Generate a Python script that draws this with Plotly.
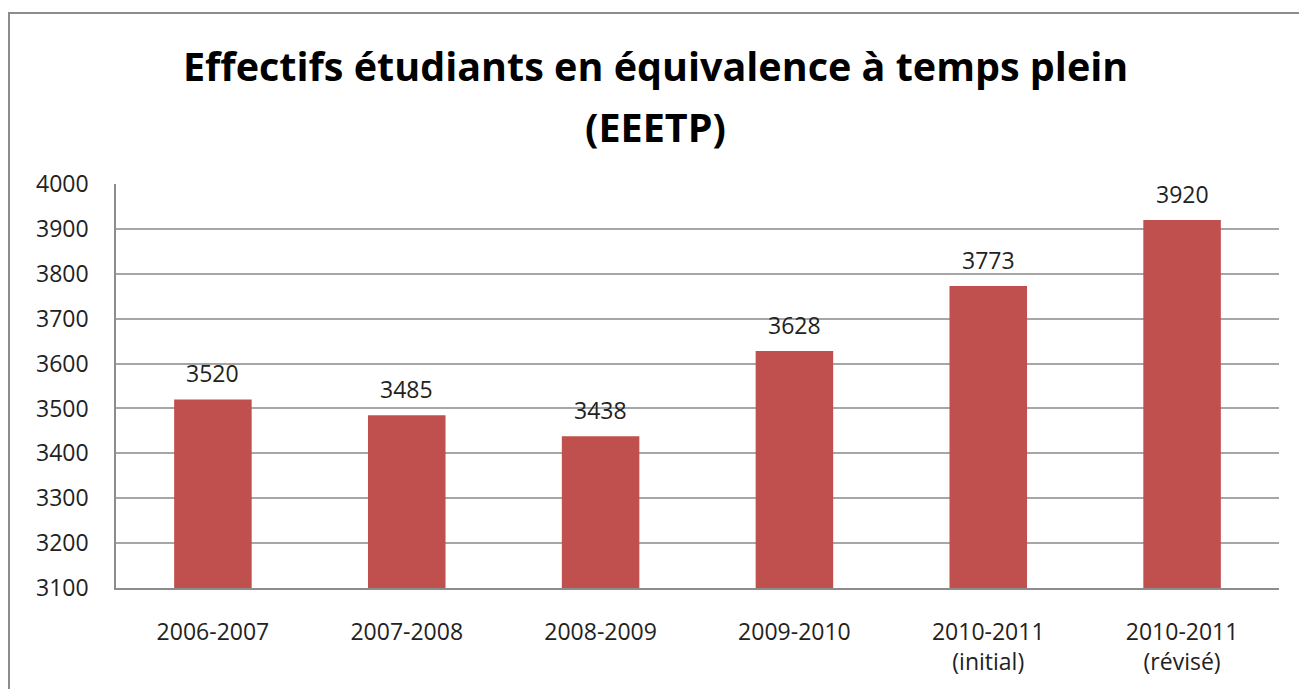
import plotly.graph_objects as go

categories = ["2006-2007", "2007-2008", "2008-2009", "2009-2010",
              "2010-2011<br>(initial)", "2010-2011<br>(révisé)"]
values = [3520, 3485, 3438, 3628, 3773, 3920]
y_ticks = [3100, 3200, 3300, 3400, 3500, 3600, 3700, 3800, 3900, 4000]
title_lines = ["Effectifs étudiants en équivalence à temps plein", "(EEETP)"]

OFF = 8  # default page body margin
W, H = 1307 - 2 * OFF, 697 - 2 * OFF
L, R, T, B = 116 - OFF, 1279 - OFF, 184 - OFF, 588 - OFF

FONT = "Open Sans"
TXT = "#222222"

fig = go.Figure(go.Bar(
    x=categories, y=values, width=0.4,
    marker=dict(color="#C0504D", line=dict(width=0)),
    hoverinfo="x+y",
))

def px_x(p):
    return (p - OFF - L) / (R - L)

def px_y(p):
    return (B - (p - OFF)) / (B - T)

annotations = []
for c, v in zip(categories, values):
    annotations.append(dict(x=c, y=v, xref="x", yref="y", text=str(v),
                            showarrow=False, yanchor="middle", yshift=26,
                            font=dict(family=FONT, size=23, color=TXT)))
for line, yc in zip(title_lines, [66, 127]):
    annotations.append(dict(x=px_x(655), y=px_y(yc), xref="paper", yref="paper",
                            text="<b>" + line + "</b>", showarrow=False,
                            xanchor="center", yanchor="middle",
                            font=dict(family=FONT, size=39.5, color="black")))

fig.update_layout(
    width=W, height=H, autosize=False,
    margin=dict(l=L, r=W - R, t=T, b=H - B),
    paper_bgcolor="white", plot_bgcolor="white",
    showlegend=False,
    annotations=annotations,
    shapes=[
        dict(type="line", xref="paper", yref="paper", x0=px_x(9), x1=px_x(9),
             y0=px_y(13), y1=px_y(720), line=dict(color="#8C8C8C", width=2)),
        dict(type="line", xref="paper", yref="paper", x0=px_x(8), x1=px_x(1330),
             y0=px_y(13), y1=px_y(13), line=dict(color="#8C8C8C", width=2)),
    ],
)
fig.update_xaxes(
    showgrid=False, showline=True, linecolor="#8C8C8C", linewidth=1.5,
    ticks="", ticklabelstandoff=23,
    tickfont=dict(family=FONT, size=23, color=TXT),
)
fig.update_yaxes(
    range=[3100, 4000], tickvals=y_ticks, showgrid=True, gridcolor="#A6A6A6",
    gridwidth=1.5, showline=True, linecolor="#8C8C8C", linewidth=1.5,
    ticks="", ticklabelstandoff=21, zeroline=False,
    tickfont=dict(family=FONT, size=23, color=TXT),
)

fig.write_html("out.html")
